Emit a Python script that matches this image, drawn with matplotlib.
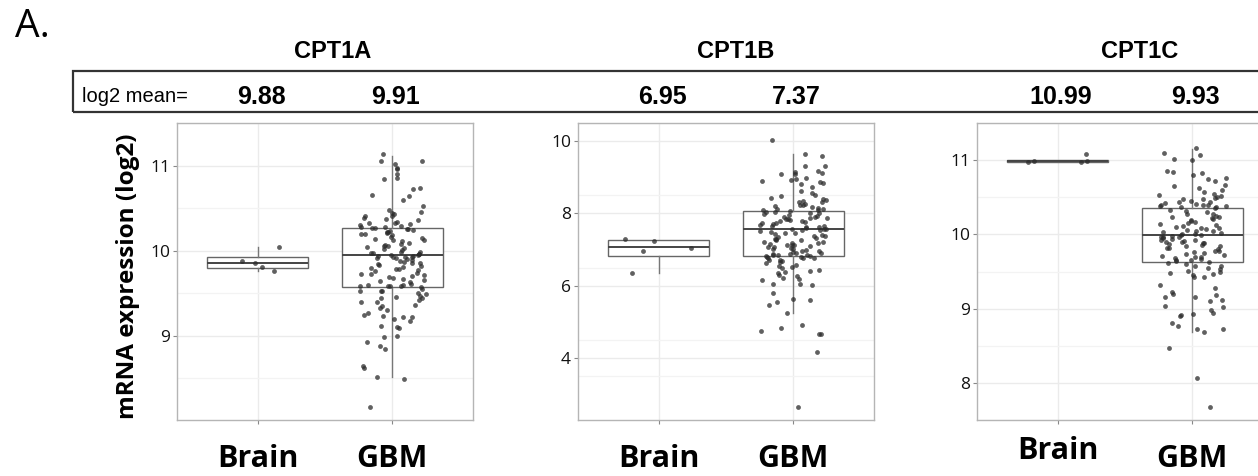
import numpy as np
import matplotlib.pyplot as plt
from matplotlib.patches import Rectangle
from matplotlib.transforms import ScaledTranslation

# ---- data ----
genes = ["CPT1A", "CPT1B", "CPT1C"]
groups = ["Brain", "GBM"]
log2_means = [["9.88", "9.91"], ["6.95", "7.37"], ["10.99", "9.93"]]

cpt1a_brain = [9.76, 9.81, 9.85, 9.88, 10.04]
cpt1a_gbm = [
    11.13, 11.05, 11.05, 11.02, 10.97, 10.96, 10.90, 10.85, 10.84, 10.74, 10.73, 10.65, 10.64, 10.59, 10.53,
    10.48, 10.46, 10.44, 10.43, 10.41, 10.41, 10.38, 10.37, 10.36, 10.34, 10.33, 10.33, 10.31, 10.30, 10.29,
    10.28, 10.28, 10.27, 10.26, 10.25, 10.24, 10.23, 10.22, 10.22, 10.21, 10.19, 10.18, 10.16, 10.15, 10.14,
    10.12, 10.11, 10.09, 10.08, 10.07, 10.05, 10.04, 10.02, 10.01, 9.99, 9.98, 9.97, 9.96, 9.96, 9.95, 9.95,
    9.94, 9.94, 9.93, 9.92, 9.91, 9.90, 9.89, 9.88, 9.87, 9.86, 9.85, 9.83, 9.82, 9.81, 9.80, 9.78, 9.77,
    9.76, 9.74, 9.73, 9.72, 9.71, 9.70, 9.68, 9.67, 9.65, 9.64, 9.63, 9.61, 9.60, 9.60, 9.59, 9.59, 9.58,
    9.58, 9.57, 9.55, 9.53, 9.52, 9.52, 9.50, 9.49, 9.47, 9.45, 9.44, 9.44, 9.42, 9.40, 9.40, 9.36, 9.35,
    9.33, 9.30, 9.27, 9.24, 9.23, 9.22, 9.22, 9.20, 9.17, 9.12, 9.10, 9.09, 9.00, 8.99, 8.93, 8.88, 8.84,
    8.65, 8.62, 8.52, 8.49, 8.16, 10.12, 10.06, 9.97, 9.93, 9.84, 9.79, 9.69, 10.19, 10.03, 9.91, 10.27,
]

cpt1b_brain = [6.36, 6.95, 7.05, 7.23, 7.29]
cpt1b_gbm = [
    10.03, 9.65, 9.59, 9.32, 9.30, 9.18, 9.14, 9.12, 9.10, 9.08, 8.98, 8.95, 8.92, 8.90, 8.88, 8.85, 8.80,
    8.72, 8.62, 8.55, 8.50, 8.47, 8.43, 8.40, 8.38, 8.33, 8.31, 8.30, 8.27, 8.24, 8.20, 8.18, 8.15, 8.13,
    8.12, 8.10, 8.09, 8.06, 8.05, 8.03, 8.02, 8.00, 7.98, 7.96, 7.93, 7.91, 7.90, 7.88, 7.85, 7.83, 7.82,
    7.80, 7.78, 7.75, 7.73, 7.72, 7.70, 7.68, 7.66, 7.63, 7.62, 7.60, 7.58, 7.57, 7.56, 7.55, 7.53, 7.50,
    7.48, 7.46, 7.45, 7.42, 7.40, 7.38, 7.36, 7.33, 7.30, 7.29, 7.27, 7.25, 7.22, 7.20, 7.19, 7.17, 7.15,
    7.13, 7.11, 7.10, 7.08, 7.06, 7.04, 7.02, 7.00, 6.98, 6.96, 6.95, 6.93, 6.91, 6.90, 6.88, 6.87, 6.86,
    6.85, 6.84, 6.83, 6.82, 6.80, 6.79, 6.77, 6.76, 6.75, 6.72, 6.70, 6.68, 6.65, 6.62, 6.58, 6.55, 6.52,
    6.48, 6.44, 6.40, 6.37, 6.35, 6.30, 6.27, 6.22, 6.18, 6.15, 6.05, 6.05, 6.03, 5.80, 5.62, 5.59, 5.55,
    5.45, 5.25, 4.91, 4.82, 4.73, 4.66, 4.66, 4.16, 2.65, 7.87, 7.64, 7.35, 7.12, 8.22,
]

cpt1c_brain = [10.97, 10.98, 10.99, 10.99, 11.08]
cpt1c_gbm = [
    11.16, 11.09, 11.07, 11.02, 11.00, 10.86, 10.84, 10.83, 10.80, 10.76, 10.74, 10.72, 10.67, 10.65, 10.63,
    10.60, 10.57, 10.55, 10.53, 10.52, 10.50, 10.49, 10.48, 10.47, 10.45, 10.44, 10.43, 10.42, 10.41, 10.40,
    10.40, 10.39, 10.38, 10.38, 10.37, 10.37, 10.35, 10.33, 10.31, 10.30, 10.28, 10.27, 10.25, 10.23, 10.22,
    10.21, 10.20, 10.18, 10.16, 10.15, 10.14, 10.12, 10.10, 10.09, 10.08, 10.07, 10.06, 10.05, 10.04, 10.03,
    10.02, 10.01, 10.00, 9.99, 9.99, 9.98, 9.97, 9.96, 9.95, 9.94, 9.93, 9.92, 9.91, 9.90, 9.89, 9.88, 9.87,
    9.86, 9.85, 9.84, 9.82, 9.81, 9.80, 9.78, 9.77, 9.76, 9.75, 9.73, 9.72, 9.71, 9.70, 9.69, 9.68, 9.67,
    9.66, 9.65, 9.64, 9.63, 9.62, 9.60, 9.58, 9.57, 9.55, 9.53, 9.51, 9.50, 9.48, 9.46, 9.45, 9.43, 9.42,
    9.32, 9.28, 9.22, 9.20, 9.19, 9.16, 9.15, 9.12, 9.10, 9.03, 9.02, 8.98, 8.94, 8.93, 8.92, 8.90, 8.81,
    8.76, 8.73, 8.72, 8.69, 8.47, 8.07, 7.67, 10.11, 9.97, 9.90, 10.24,
]

# box statistics as drawn: (whisker low, q1, median, q3, whisker high)
box_stats = [
    [(9.76, 9.80, 9.85, 9.92, 10.04), (8.52, 9.57, 9.945, 10.27, 11.11)],
    [(6.36, 6.81, 7.08, 7.25, 7.25), (5.25, 6.82, 7.56, 8.07, 9.64)],
    [(10.97, 10.97, 10.99, 11.00, 11.00), (8.68, 9.63, 9.99, 10.36, 11.15)],
]
points = [[cpt1a_brain, cpt1a_gbm], [cpt1b_brain, cpt1b_gbm], [cpt1c_brain, cpt1c_gbm]]
yticks = [[9, 10, 11], [4, 6, 8, 10], [8, 9, 10, 11]]
ylims = [(8.01, 11.28), (2.28, 10.41), (7.53, 11.33)]

W, H = 1258, 476
fig = plt.figure(figsize=(W / 100, H / 100), dpi=100)

lefts = [177, 578, 977]
title_x = [333, 736, 1140]


def jitter(n, seed):
    # deterministic scatter of horizontal offsets, within +-0.25
    i = np.arange(n) + seed
    frac = (np.sin(i * 12.9898 + seed * 78.233) * 43758.5453) % 1
    return (frac - 0.5) * 0.5


for k in range(3):
    ax = fig.add_axes([lefts[k] / W, 1 - 420 / H, 296 / W, 297 / H])
    ax.set_xlim(0.4, 2.6)
    ax.set_ylim(*ylims[k])

    stats = []
    for lo, q1, med, q3, hi in box_stats[k]:
        stats.append(dict(whislo=lo, q1=q1, med=med, q3=q3, whishi=hi, fliers=[]))
    ax.bxp(stats, positions=[1, 2], widths=0.75, showcaps=False, patch_artist=True,
           boxprops=dict(facecolor="white", edgecolor="#666666", linewidth=1.0),
           medianprops=dict(color="#444444", linewidth=1.4),
           whiskerprops=dict(color="#777777", linewidth=1.0), zorder=2)

    for g in range(2):
        vals = np.array(points[k][g])
        jit = jitter(len(vals), 3 * k + g + 1)
        ax.scatter(g + 1 + jit, vals, s=12, color="#2b2b2b", alpha=0.75, linewidths=0, zorder=3)

    ax.set_yticks(yticks[k])
    ax.set_yticks([t + 0.5 for t in yticks[k]] + [yticks[k][0] - 0.5], minor=True)
    ax.set_yticklabels([str(t) for t in yticks[k]], family="Open Sans", fontsize=12.5, color="#111111")
    ax.set_xticks([1, 2])
    ax.set_xticklabels(groups, family="Open Sans", fontweight="bold", fontsize=22)
    ax.tick_params(axis="x", length=3, color="#888888", pad=14)
    ax.tick_params(axis="y", length=3, color="#888888", pad=2)
    ax.tick_params(axis="y", which="minor", length=0)
    ax.grid(True, which="major", color="#ebebeb", linewidth=1.0, zorder=0)
    ax.grid(True, which="minor", axis="y", color="#f3f3f3", linewidth=0.9, zorder=0)
    ax.set_axisbelow(True)
    for sp in ax.spines.values():
        sp.set_color("#b5b5b5")
        sp.set_linewidth(1.0)
    if k == 2:
        lab = ax.get_xticklabels()[0]
        lab.set_transform(lab.get_transform() + ScaledTranslation(0, 8 / 100, fig.dpi_scale_trans))

    fig.text(title_x[k] / W, 1 - 52 / H, genes[k], ha="center", va="center",
             family="Liberation Sans", fontweight="bold", fontsize=17)
    centers = [lefts[k] + 81, lefts[k] + 81 + 134]
    for g in range(2):
        fig.text((centers[g] + 3) / W, 1 - 97 / H, log2_means[k][g], ha="center", va="center",
                 family="Liberation Sans", fontweight="bold", fontsize=18)

# header box
fig.patches.append(Rectangle((73 / W, 1 - 112 / H), 1.2, 41 / H, transform=fig.transFigure,
                             fill=False, edgecolor="#333333", linewidth=1.6))
fig.text(82 / W, 1 - 97 / H, "log2 mean=", ha="left", va="center",
         family="Liberation Sans", fontsize=14.5)
fig.text(15 / W, 1 - 27 / H, "A.", ha="left", va="center", family="Open Sans", fontsize=28)
fig.text(128 / W, 1 - 276 / H, "mRNA expression (log2)", rotation=90, ha="center", va="center",
         family="Open Sans", fontweight="bold", fontsize=17.5)

fig.savefig("out.png", dpi=100)
